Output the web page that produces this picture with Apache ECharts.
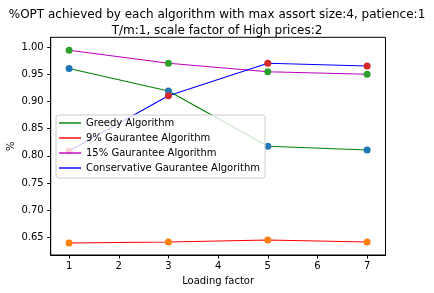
<!DOCTYPE html>
<html><head><meta charset="utf-8">
<script src="https://cdn.jsdelivr.net/npm/echarts@6/dist/echarts.min.js"></script>
<style>html,body{margin:0;padding:0;background:#fff}#c{width:434px;height:293px}</style>
</head><body><div id="c"></div>
<script>
const loading = [1, 3, 5, 7];
const greedy = [0.961, 0.9195, 0.8176, 0.8108];
const guar9 = [0.6395, 0.6413, 0.6450, 0.6413];
const guar15 = [0.9945, 0.9705, 0.955, 0.9503];
const conservative = [0.809, 0.9109, 0.9705, 0.9656];
const xTicks = [1, 2, 3, 4, 5, 6, 7];
const yTicks = [0.65, 0.70, 0.75, 0.80, 0.85, 0.90, 0.95, 1.00];
const names = ['Greedy Algorithm', '9% Gaurantee Algorithm', '15% Gaurantee Algorithm', 'Conservative Gaurantee Algorithm'];

const lineColors = ['#008000', '#ff0000', '#bf00bf', '#0000ff'];
const dotColors = ['#1f77b4', '#ff7f0e', '#2ca02c', '#d62728'];
const all = [greedy, guar9, guar15, conservative];
const font = 'DejaVu Sans';
const lineIcon = 'path://M0,0 L22,0 L22,1.4 L0,1.4 Z';

const series = [];
all.forEach((vals, i) => {
  series.push({
    name: names[i], type: 'line', symbol: 'none', z: 2,
    data: loading.map((x, j) => [x, vals[j]]),
    lineStyle: { color: lineColors[i], width: 1.1 },
    itemStyle: { color: lineColors[i] }
  });
});
all.forEach((vals, i) => {
  series.push({
    name: 'pts' + i, type: 'scatter', symbolSize: 7, z: 3,
    data: loading.map((x, j) => [x, vals[j]]),
    itemStyle: { color: dotColors[i], opacity: 1 }
  });
});

const chart = echarts.init(document.getElementById('c'), null, { renderer: 'canvas' });
chart.setOption({
  animation: false,
  backgroundColor: '#fff',
  title: {
    text: '%OPT achieved by each algorithm with max assort size:4, patience:1\nT/m:1, scale factor of High prices:2',
    left: 'center', top: 2,
    textStyle: { fontFamily: font, fontSize: 12, fontWeight: 'normal', color: '#000', lineHeight: 16 }
  },
  legend: {
    data: names.map((n, i) => ({ name: n, icon: lineIcon, itemStyle: { color: lineColors[i] } })),
    orient: 'vertical', left: 56, top: 115,
    itemWidth: 22, itemHeight: 10, itemGap: 5,
    padding: [3, 5, 5, 3],
    backgroundColor: 'rgba(255,255,255,0.8)', borderColor: '#cccccc', borderWidth: 1, borderRadius: 3,
    textStyle: { fontFamily: font, fontSize: 10, color: '#000' }
  },
  grid: { left: 50.7, right: 48.5, top: 37.3, bottom: 38, show: true, borderColor: '#000', borderWidth: 1, backgroundColor: 'transparent', containLabel: false, outerBoundsMode: 'none' },
  xAxis: {
    type: 'value', min: 0.63, max: 7.37,
    name: 'Loading factor', nameLocation: 'middle', nameGap: 21, nameMoveOverlap: false,
    nameTextStyle: { fontFamily: font, fontSize: 10, color: '#000' },
    axisLine: { show: true, onZero: false, lineStyle: { color: '#000', width: 1 } },
    axisTick: { show: true, length: 3.5, customValues: xTicks, lineStyle: { color: '#000' } },
    axisLabel: { customValues: xTicks, margin: 6, fontFamily: font, fontSize: 10, color: '#000' },
    splitLine: { show: false }
  },
  yAxis: {
    type: 'value', min: 0.6174, max: 1.0184,
    name: '%', nameLocation: 'middle', nameGap: 34, nameMoveOverlap: false,
    nameTextStyle: { fontFamily: font, fontSize: 10, color: '#000' },
    axisLine: { show: true, onZero: false, lineStyle: { color: '#000', width: 1 } },
    axisTick: { show: true, length: 3.5, customValues: yTicks, lineStyle: { color: '#000' } },
    axisLabel: { customValues: yTicks, margin: 7, fontFamily: font, fontSize: 10, color: '#000', formatter: v => v.toFixed(2) },
    splitLine: { show: false }
  },
  series: series
});
</script></body></html>
